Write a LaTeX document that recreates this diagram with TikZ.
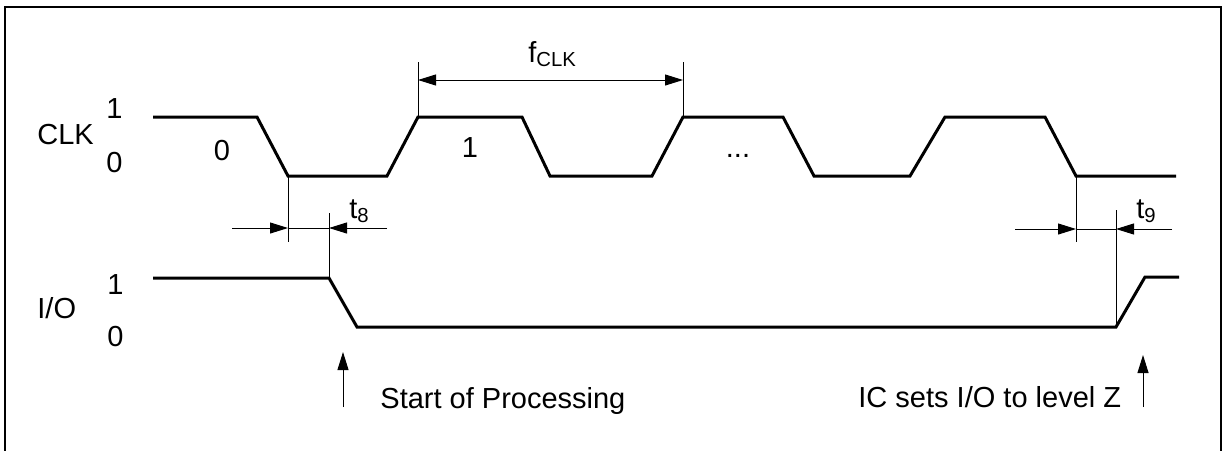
\documentclass[tikz,border=0pt]{standalone}
\usepackage{fontspec}
\setmainfont{Liberation Sans}
\usetikzlibrary{arrows.meta}
\begin{document}
\begin{tikzpicture}[x=0.5pt,y=-0.5pt,
  wave/.style={line width=1.5pt,line join=miter},
  thin/.style={line width=0.5pt},
  dim/.style={line width=0.5pt,-{Triangle[length=9pt,width=5.5pt]}},
  dimboth/.style={line width=0.5pt,{Triangle[length=9pt,width=5.5pt]}-{Triangle[length=9pt,width=5.5pt]}},
  lbl/.style={font=\fontsize{14.5}{16}\selectfont,inner sep=0pt,anchor=base west},
  lblc/.style={font=\fontsize{14.5}{16}\selectfont,inner sep=0pt,anchor=base}]
\useasboundingbox (0,0) rectangle (1229,450);
% frame
\draw[line width=1pt] (5,470) -- (5,6.5) -- (1221,6.5) -- (1221,470);
% CLK waveform coordinates
\coordinate (c0) at (153,117);
\coordinate (c1) at (257,117);
\coordinate (c2) at (288,176);
\coordinate (c3) at (387,176);
\coordinate (c4) at (418,117);
\coordinate (c5) at (522,117);
\coordinate (c6) at (550,176);
\coordinate (c7) at (652,176);
\coordinate (c8) at (683,117);
\coordinate (c9) at (783,117);
\coordinate (c10) at (814,176);
\coordinate (c11) at (910,176);
\coordinate (c12) at (945,117);
\coordinate (c13) at (1045,117);
\coordinate (c14) at (1076,176);
\coordinate (c15) at (1176,176);
\draw[wave] (c0)--(c1)--(c2)--(c3)--(c4)--(c5)--(c6)--(c7)--(c8)--(c9)--(c10)--(c11)--(c12)--(c13)--(c14)--(c15);
% I/O waveform
\coordinate (i0) at (153,278);
\coordinate (i1) at (329,278);
\coordinate (i2) at (357,327);
\coordinate (i3) at (1116,327);
\coordinate (i4) at (1145,277);
\coordinate (i5) at (1179,277);
\draw[wave] (i0)--(i1)--(i2)--(i3)--(i4)--(i5);
% labels
\node[lbl] (clk) at (37,144) {CLK};
\node[lbl] (clk1) at (106,118) {1};
\node[lbl] (clk0) at (106,172) {0};
\node[lbl] (io) at (37,318) {I/O};
\node[lbl] (io1) at (107,294) {1};
\node[lbl] (io0) at (107,346) {0};
\node[lblc] (b0) at (222,160) {0};
\node[lblc] (b1) at (470,157) {1};
\node[lblc] (dots) at (738,157) {...};
% f_CLK
\coordinate (f1t) at (418,62);
\coordinate (f2t) at (683,62);
\draw[thin] (f1t) -- (c4);
\draw[thin] (f2t) -- (c8);
\coordinate (fa) at (418,80);
\coordinate (fb) at (683,80);
\draw[dimboth] (fa) -- (fb);
\node[lbl] (fclk) at (528,62) {f\textsubscript{CLK}};
% t8
\coordinate (t8a) at (288,242);
\coordinate (t8b) at (329,213);
\draw[thin] (c2) -- (t8a);
\draw[thin] (t8b) -- (i1);
\coordinate (t8l) at (232,228);
\coordinate (t8lx) at (288,228);
\coordinate (t8r) at (387,228);
\coordinate (t8rx) at (329,228);
\draw[dim] (t8l) -- (t8lx);
\draw[thin] (t8lx) -- (t8rx);
\draw[dim] (t8r) -- (t8rx);
\node[lbl] (t8) at (349,218) {t\textsubscript{8}};
% t9
\coordinate (t9a) at (1076,242);
\coordinate (t9b) at (1116,210);
\draw[thin] (c14) -- (t9a);
\draw[thin] (t9b) -- (i3);
\coordinate (t9l) at (1015,229);
\coordinate (t9lx) at (1076,229);
\coordinate (t9r) at (1172,229);
\coordinate (t9rx) at (1116,229);
\draw[dim] (t9l) -- (t9lx);
\draw[thin] (t9lx) -- (t9rx);
\draw[dim] (t9r) -- (t9rx);
\node[lbl] (t9) at (1136,218) {t\textsubscript{9}};
% event arrows
\coordinate (s0) at (343,407);
\coordinate (s1) at (343,352);
\draw[dim] (s0) -- (s1);
\node[lbl] (start) at (380,408) {Start of Processing};
\coordinate (z0) at (1143,407);
\coordinate (z1) at (1143,355);
\draw[dim] (z0) -- (z1);
\node[lbl] (icz) at (858,407) {IC sets I/O to level Z};
\end{tikzpicture}
\end{document}
